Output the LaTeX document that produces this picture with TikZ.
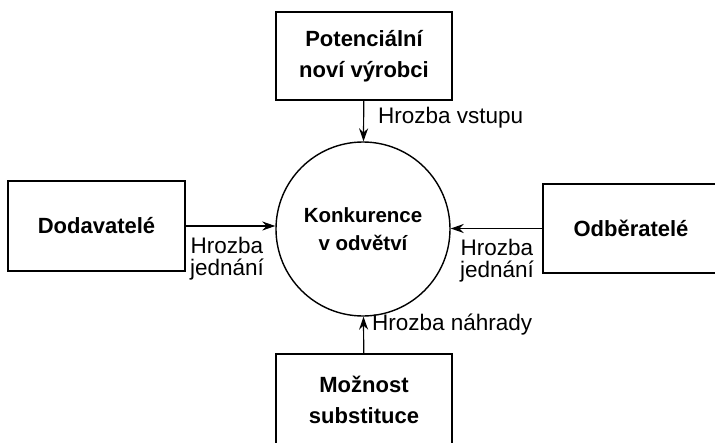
\documentclass[tikz,border=0pt]{standalone}
\usepackage{fontspec}
\setmainfont{Liberation Sans}
\usetikzlibrary{arrows.meta}

\begin{document}
\begin{tikzpicture}[x=1pt,y=-1pt,
  box/.style={draw,line width=1.3pt,minimum width=176pt,minimum height=88pt,
    inner sep=0pt,align=center,font=\fontsize{22}{31}\selectfont\bfseries},
  arr/.style={-{Stealth[length=13pt,width=9pt]},line width=1.2pt},
  lab/.style={font=\fontsize{22.5}{22}\selectfont,align=center,inner sep=0pt}]
  \useasboundingbox (0,0) rectangle (715,442);
  \clip (0,0) rectangle (715,442);

  % Forces
  \node[box] (pot) at (364,56) {Potenciální\\noví výrobci};
  \node[box,minimum width=177pt,minimum height=90pt] (dod) at (96.5,226) {Dodavatelé};
  \node[box,minimum width=176pt,minimum height=89pt] (odb) at (631,228.5) {Odběratelé};
  \node[box,minimum height=92pt] (sub) at (364,400) {Možnost\\substituce};

  % Industry
  \node[draw,circle,line width=1.4pt,minimum size=174pt,inner sep=0pt,align=center,
    font=\fontsize{20.5}{28}\selectfont\bfseries] (konk) at (363,229) {Konkurence\\v odvětví};

  % Threats
  \draw[arr] (pot) -- (konk);
  \draw[arr] (dod.east) -- (dod.east -| konk.west);
  \draw[arr] (odb.west) -- (odb.west -| konk.east);
  \draw[arr] (sub) -- (konk);

  \node[lab,anchor=west] (tvst) at (378,118) {Hrozba vstupu};
  \node[lab] (tdod) at (227,259) {Hrozba\\jednání};
  \node[lab] (todb) at (497,261) {Hrozba\\jednání};
  \node[lab,anchor=west] (tnah) at (372,325) {Hrozba náhrady};
\end{tikzpicture}
\end{document}
